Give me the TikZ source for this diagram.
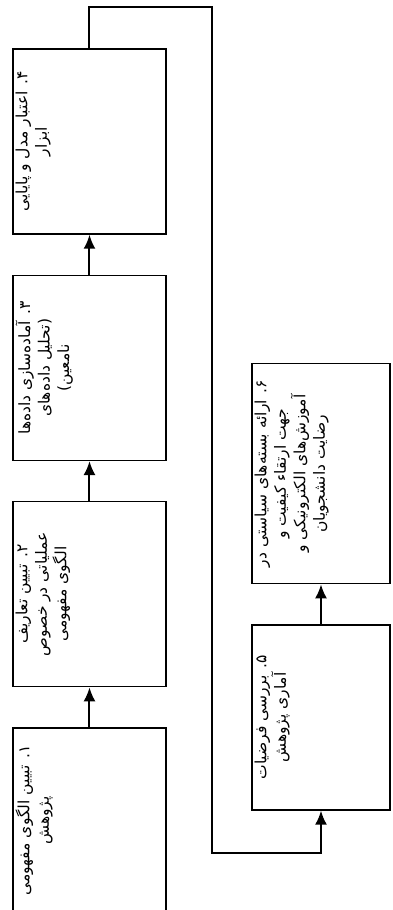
\documentclass[tikz,border=0pt]{standalone}
\usepackage{fontspec}
\usetikzlibrary{positioning}
\usetikzlibrary{arrows.meta}
\TeXXeTstate=1
\newfontfamily\farsifont[Script=Arabic]{DejaVu Sans}

\tikzset{
  stage/.style={draw, line width=1.3pt, minimum width=185pt, minimum height=153pt, inner sep=0pt},
  policy/.style={stage, minimum height=138pt},
  stagetext/.style={anchor=north, align=center, yshift=-2pt, inner sep=1pt,
    font=\farsifont\fontsize{15.5}{19.5}\selectfont},
  flow/.style={line width=2pt, -{Latex[length=14pt,width=12pt]}},
}

\begin{document}
\begin{tikzpicture}[x=1pt, y=1pt, rotate=90, transform shape]
    \useasboundingbox (0,0) rectangle (910,393);
    \node[stage, label={[stagetext]north:{\beginR ۱. تبیین الگوی مفهومی\endR\\\beginR پژوهش\endR}}] (s1) at (89.5,303.5) {};
    \node[stage, right=40pt of s1, label={[stagetext]north:{\beginR ۲. تبیین تعاریف\endR\\\beginR عملیاتی در خصوص\endR\\\beginR الگوی مفهومی\endR}}] (s2) {};
    \node[stage, right=40pt of s2, label={[stagetext]north:{\beginR ۳. آماده^^^^200cسازی داده^^^^200cها\endR\\\beginR (تحلیل داده^^^^200cهای\endR\\\beginR نامعین)\endR}}] (s3) {};
    \node[stage, right=40pt of s3, label={[stagetext]north:{\beginR ۴. اعتبار مدل و پایایی\endR\\\beginR ابزار\endR}}] (s4) {};
    \node[policy, label={[stagetext]north:{\beginR ۵. بررسی فرضیات\endR\\\beginR آماری پژوهش\endR}}] (s5) at (192.5,72) {};
    \node[policy, minimum width=220pt, right=40pt of s5, label={[stagetext]north:{\beginR ۶. ارائه بسته^^^^200cهای سیاستی در\endR\\\beginR جهت ارتقاء کیفیت و\endR\\\beginR آموزش^^^^200cهای الکترونیکی و\endR\\\beginR رضایت دانشجویان\endR}}] (s6) {};
    \coordinate (fb) at (57,181);
    \draw[flow] (s1) -- (s2);
    \draw[flow] (s2) -- (s3);
    \draw[flow] (s3) -- (s4);
    \draw[flow] (s4.east) -- ++(41,0) |- (fb) |- (s5.west);
    \draw[flow] (s5) -- (s6);
\end{tikzpicture}
\end{document}
